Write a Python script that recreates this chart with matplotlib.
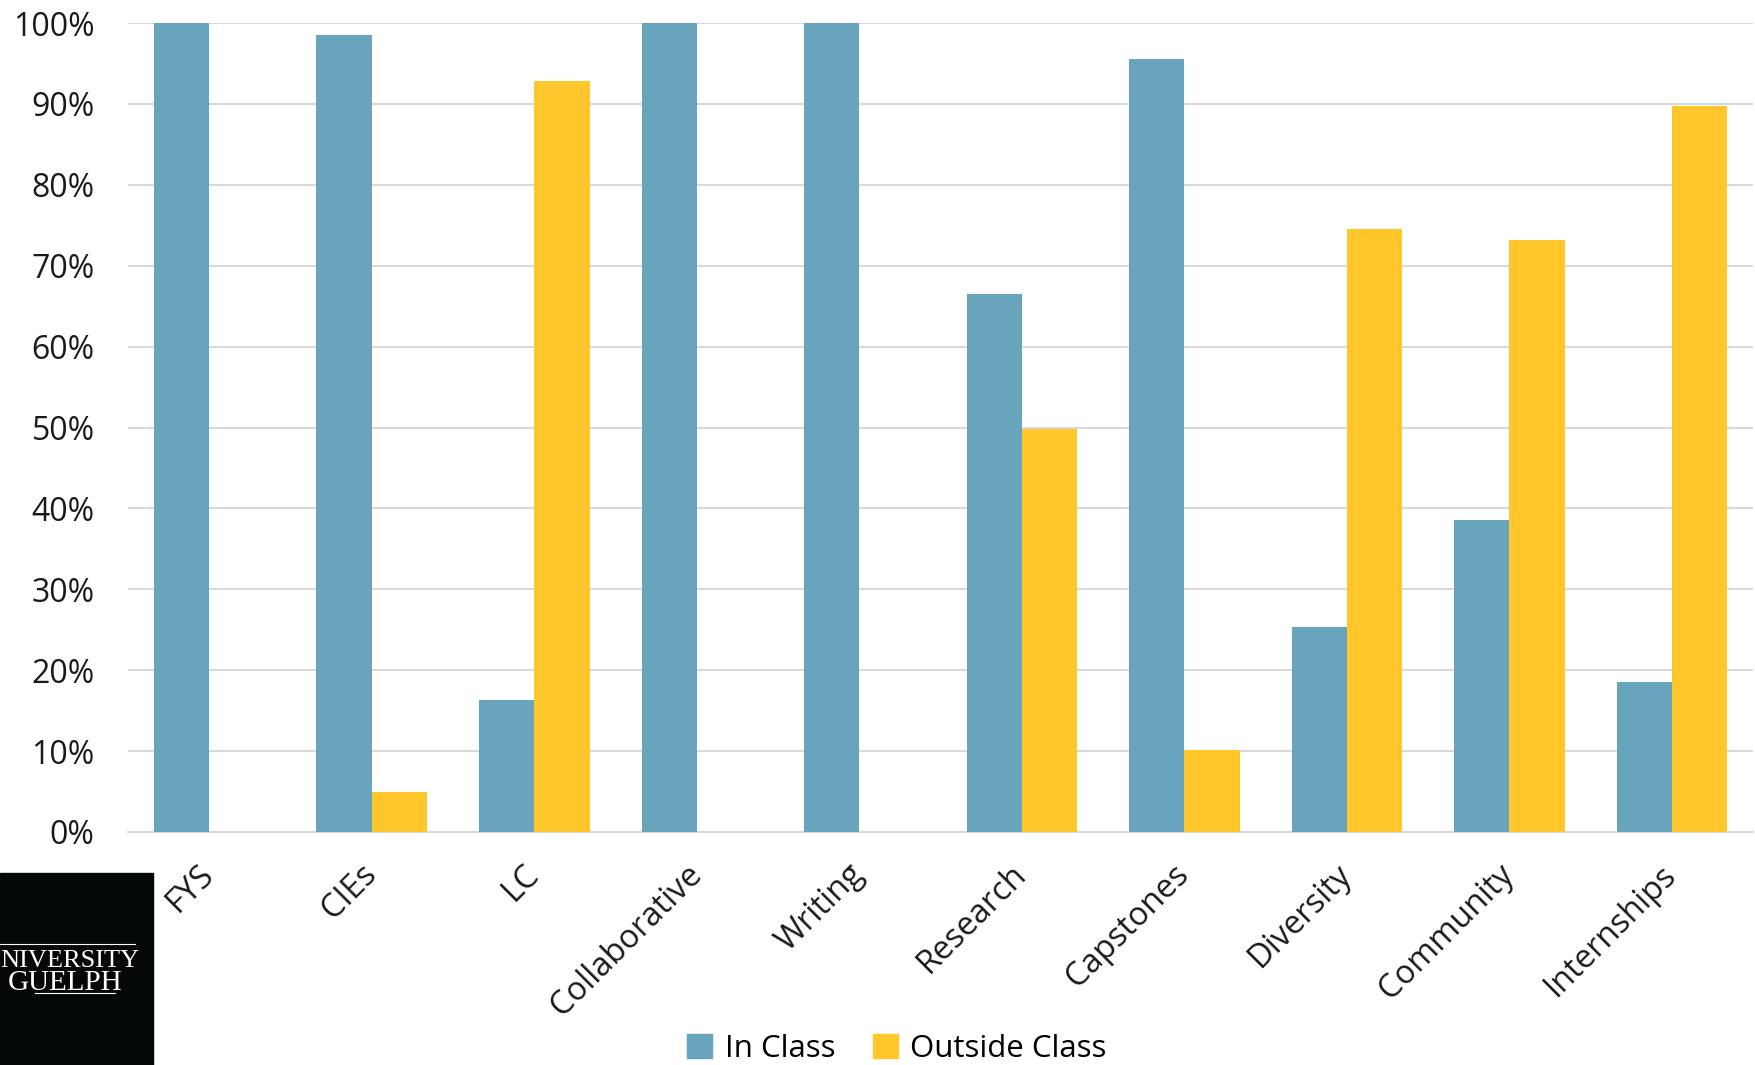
import matplotlib
matplotlib.use("Agg")
import matplotlib.pyplot as plt
import numpy as np
from matplotlib.patches import Rectangle, Patch
from matplotlib.lines import Line2D

categories = ["FYS", "CIEs", "LC", "Collaborative", "Writing", "Research",
              "Capstones", "Diversity", "Community", "Internships"]
in_class = [100, 98.5, 16.3, 100, 100, 66.5, 95.6, 25.3, 38.6, 18.5]
outside_class = [0, 5.0, 92.8, 0, 0, 49.8, 10.1, 74.5, 73.2, 89.8]
yticks = [0, 10, 20, 30, 40, 50, 60, 70, 80, 90, 100]

BLUE = "#68A4BC"
YELLOW = "#FFC72C"
GRID = "#D9D9D9"

plt.rcParams['font.family'] = ['Open Sans', 'DejaVu Sans']

fig = plt.figure(figsize=(17.56, 10.65), dpi=100)
ax = fig.add_axes([128/1756, 1-832/1065, (1753-128)/1756, (832-23)/1065])

x = np.arange(len(categories))
w = 0.34
ax.bar(x - w/2, in_class, width=w, color=BLUE, zorder=3, label="In Class")
ax.bar(x + w/2, outside_class, width=w, color=YELLOW, zorder=3, label="Outside Class")

ax.set_xlim(-0.5, len(categories) - 0.5)
ax.set_ylim(0, 100)
ax.set_yticks(yticks)
ax.set_yticklabels([f"{v}%" for v in yticks], fontsize=23, color="#1a1a1a")
ax.yaxis.grid(True, color=GRID, linewidth=1.5, zorder=0)
ax.set_axisbelow(True)
for s in ["top", "right", "left"]:
    ax.spines[s].set_visible(False)
ax.spines["bottom"].set_color(GRID)
ax.spines["bottom"].set_linewidth(1.5)
ax.tick_params(axis="y", length=0, pad=24)
ax.tick_params(axis="x", length=0, pad=27)
ax.set_xticks(x)
ax.set_xticklabels(categories, fontsize=23.5, rotation=45, ha="right",
                   rotation_mode="anchor", color="#1a1a1a")
for lbl in ax.get_xticklabels():
    lbl.set_verticalalignment("center")

handles = [Patch(color=BLUE, label="In Class"), Patch(color=YELLOW, label="Outside Class")]
fig.legend(handles=handles, loc="center", bbox_to_anchor=(897/1756, 1-1049/1065),
           ncol=2, frameon=False, fontsize=22.5, handlelength=0.8, handleheight=0.8,
           handletextpad=0.4, columnspacing=1.2)

# logo
fig.patches.append(Rectangle((0, 0), 153/1756, (1065-873)/1065, transform=fig.transFigure,
                             color="#050808", zorder=5))
fig.text(0, 1-967/1065, "NIVERSITY", color="white", fontsize=19,
         family="Liberation Serif", ha="left", va="baseline", zorder=6)
fig.text(8/1756, 1-990/1065, "GUELPH", color="white", fontsize=21,
         family="Liberation Serif", ha="left", va="baseline", zorder=6)
fig.lines.append(Line2D([0, 135/1756], [1-944/1065]*2, transform=fig.transFigure,
                        color="white", linewidth=0.8, zorder=6))
fig.lines.append(Line2D([35/1756, 115/1756], [1-993/1065]*2, transform=fig.transFigure,
                        color="white", linewidth=0.8, zorder=6))

fig.savefig("out.png", dpi=100)
